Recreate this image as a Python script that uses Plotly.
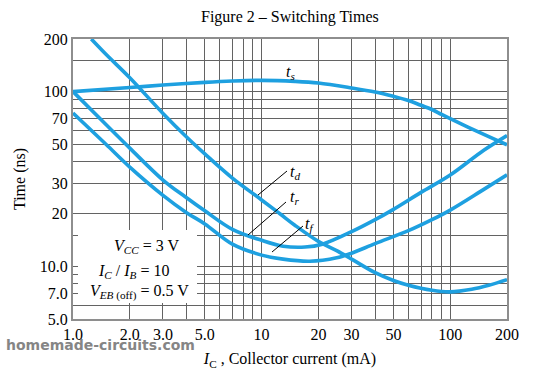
import plotly.graph_objects as go

# ---------------- data ----------------
ts_ic = [1, 2, 3, 5, 7, 10, 15, 20, 30, 40, 50, 60, 70, 80, 90, 100, 140, 200]
ts_ns = [100, 105.5, 109, 113, 115, 116, 114.5, 112, 105, 99.5, 94, 89, 83.5, 79, 74, 70, 59, 49.6]

td_ic = [1.25, 1.5, 2, 3, 4, 5, 7, 10, 12.5, 15, 20, 25, 30, 40, 50, 60, 80, 100, 130, 160, 200]
td_ns = [200, 163, 120, 75, 55, 44, 32, 24, 20, 17.2, 13.9, 12.3, 11, 9.2, 8.3, 7.8, 7.3, 7.15, 7.4, 7.8, 8.4]

tr_ic = [1, 1.5, 2, 3, 4, 5, 7, 10, 13, 17, 21, 30, 40, 50, 70, 100, 150, 200]
tr_ns = [100, 64.6, 47.5, 31.2, 24.7, 20.8, 16.3, 14.1, 13.05, 12.9, 13.4, 15.8, 18.5, 21.2, 26.5, 33.3, 46, 56]

tf_ic = [1, 1.5, 2, 3, 4, 5, 7, 10, 13, 18, 25, 30, 40, 60, 80, 100, 150, 200]
tf_ns = [75.4, 49.8, 37, 25.5, 20.3, 17.5, 13.4, 11.6, 11.0, 10.7, 11.2, 11.9, 13.5, 16, 18.5, 21, 27.5, 33.4]

x_grid = [1, 2, 3, 4, 5, 6, 7, 8, 9, 10, 20, 30, 40, 50, 60, 70, 80, 90, 100, 200]
x_text = ["1.0", "2.0", "3.0", "", "5.0", "", "", "", "", "10", "20", "30", "", "50", "", "", "", "", "100", "200"]
y_grid = [5, 6, 7, 8, 9, 10, 15, 20, 30, 40, 50, 60, 70, 80, 90, 100, 150, 200]
y_text = ["5.0", "", "7.0", "", "", "10.0", "", "20", "30", "", "50", "", "70", "", "", "100", "", "200"]

# ---------------- style ----------------
CURVE = "#1ea0e0"
SERIF = "Liberation Serif"
GRID = "#636363"

fig = go.Figure()
for name, xs, ys in [("ts", ts_ic, ts_ns), ("td", td_ic, td_ns), ("tr", tr_ic, tr_ns), ("tf", tf_ic, tf_ns)]:
    fig.add_trace(go.Scatter(x=xs, y=ys, mode="lines", name=name,
                             line=dict(color=CURVE, width=3.6, shape="spline", smoothing=1.0),
                             hoverinfo="skip"))

W, H = 548, 380
L, R, T, B = 73, 41, 39, 61
pw, ph = W - L - R, H - T - B

def px(xp):
    return (xp - L) / pw

def py(yp):
    return (H - B - yp) / ph

shapes = [
    # white box behind the condition text
    dict(type="rect", xref="paper", yref="paper", x0=px(78), x1=px(197), y0=py(303), y1=py(230),
         fillcolor="white", line=dict(width=0), layer="above"),
    # leader lines
    dict(type="line", xref="paper", yref="paper", x0=px(258), y0=py(195), x1=px(287), y1=py(171),
         line=dict(color="black", width=1), layer="above"),
    dict(type="line", xref="paper", yref="paper", x0=px(248), y0=py(235), x1=px(286), y1=py(202),
         line=dict(color="black", width=1), layer="above"),
    dict(type="line", xref="paper", yref="paper", x0=px(272), y0=py(252), x1=px(303), y1=py(226),
         line=dict(color="black", width=1), layer="above"),
]

def ann(text, x, y, size=16, xanchor="center", color="black", family=SERIF):
    return dict(text=text, xref="paper", yref="paper", x=px(x), y=py(y), xanchor=xanchor,
                yanchor="middle", showarrow=False, font=dict(family=family, size=size, color=color))

annotations = [
    ann("Figure 2 \u2013 Switching Times", 290, 17, size=16),
    ann("<i>t</i><sub><i>s</i></sub>", 284, 72, xanchor="left"),
    ann("<i>t</i><sub><i>d</i></sub>", 288, 172, xanchor="left"),
    ann("<i>t</i><sub><i>r</i></sub>", 288, 197, xanchor="left"),
    ann("<i>t</i><sub><i>f</i></sub>", 303, 224, xanchor="left"),
    ann("<i>V</i><sub><i>CC</i></sub> = 3 V", 146, 246),
    ann("<i>I</i><sub><i>C</i></sub> / <i>I</i><sub><i>B</i></sub> = 10", 133, 271),
    ann("<i>V</i><sub><i>EB</i> (off)</sub> = 0.5 V", 139, 292),
    ann("<b>homemade-circuits.com</b>", 4, 345, size=14, xanchor="left", color="#858585",
        family="DejaVu Sans"),
]

axis_common = dict(type="log", showgrid=True, gridcolor=GRID, gridwidth=1,
                   showline=True, linecolor="#8e8e8e", linewidth=2, mirror=True,
                   ticks="", zeroline=False, tickmode="array",
                   tickfont=dict(family=SERIF, size=16, color="black"))

fig.update_layout(
    width=W, height=H, autosize=False,
    margin=dict(l=L, r=R, t=T, b=B, pad=0),
    paper_bgcolor="white", plot_bgcolor="white",
    showlegend=False,
    xaxis=dict(axis_common, range=[0, 2.30103], tickvals=x_grid, ticktext=x_text,
               title=dict(text="<i>I</i><sub>C</sub> , Collector current (mA)",
                          font=dict(family=SERIF, size=16, color="black"), standoff=11)),
    yaxis=dict(axis_common, range=[0.69897, 2.30103], tickvals=y_grid, ticktext=y_text,
               title=dict(text="Time (ns)", font=dict(family=SERIF, size=16, color="black"), standoff=10)),
    shapes=shapes,
    annotations=annotations,
)

fig.write_html("out.html", config={"displayModeBar": False, "staticPlot": True},
               post_script="document.body.style.margin='0';")
